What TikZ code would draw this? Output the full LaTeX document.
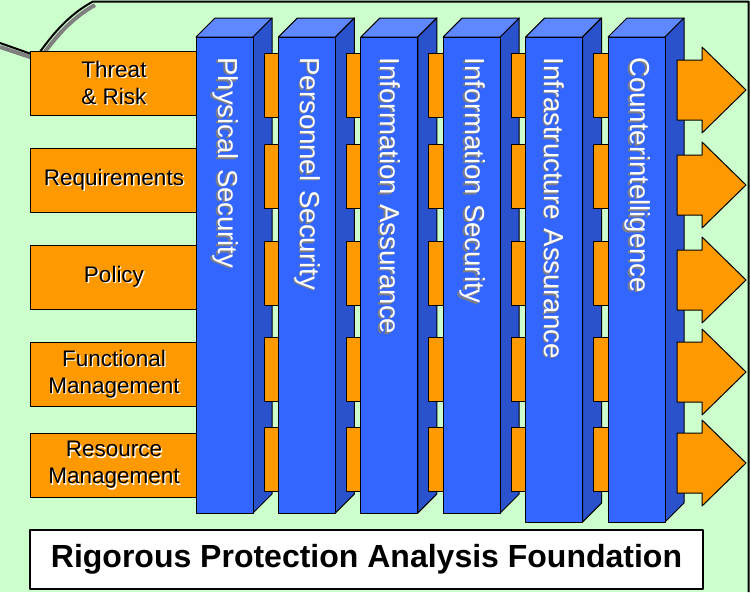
\documentclass[tikz,border=0pt]{standalone}
\usepackage{fontspec}
\setmainfont{Liberation Sans}
\usetikzlibrary{positioning}
\definecolor{cgreen}{HTML}{CCFFCC}
\definecolor{corange}{HTML}{FF9900}
\definecolor{cblue}{HTML}{3366FF}
\definecolor{cbluetop}{HTML}{5F87FF}
\definecolor{cblueside}{HTML}{2A52CC}
\definecolor{cshadow}{HTML}{7F7F7F}
\newcommand{\shadowtext}[2]{\leavevmode\rlap{\raisebox{-1.3pt}{\kern1.3pt\textcolor{#1}{#2}}}#2}
\tikzset{
  every picture/.style={x=1pt, y=-1pt, line width=1pt, line join=round},
  box/.style={draw=black, fill=corange, align=center, inner sep=0pt, minimum width=167pt, minimum height=64pt,
    font=\fontsize{22.5}{27}\selectfont},
  face/.style={draw=black, fill=#1},
  pillar/.style={face=cblue, rotate=-90, minimum height=57pt, inner xsep=20pt, inner ysep=0pt, align=left,
    text=white, font=\fontsize{27.5}{30}\selectfont},
  bar/.style={draw=black, fill=corange},
  title/.style={draw=black, line width=2.2pt, fill=white, inner sep=0pt, minimum width=673pt, minimum height=59pt,
    font=\fontsize{32}{36}\selectfont\bfseries},
}

\begin{document}
\begin{tikzpicture}
  % background
  \fill[cgreen] (0,0) rectangle (750,592);
  \useasboundingbox (0,0) rectangle (750,592);
  \draw[cshadow, line width=4pt] (0,47) -- (39,60) .. controls (54,39) and (70,19) .. (95,5);
  \draw[line width=2pt] (0,43) -- (37,56) .. controls (52,35) and (68,15) .. (93,1.5) -- (748.5,1.5) -- (748.5,592);
  % left boxes
  \node[box, anchor=north west] (threat) at (30,51) {\shadowtext{white}{Threat}\\\shadowtext{white}{\& Risk}};
  \node[box, below=32pt of threat] (req) {\shadowtext{white}{Requirements}};
  \node[box, below=32pt of req] (policy) {\shadowtext{white}{Policy}};
  \node[box, below=32pt of policy] (func) {\shadowtext{white}{Functional}\\\shadowtext{white}{Management}};
  \node[box, below=26pt of func] (res) {\shadowtext{white}{Resource}\\\shadowtext{white}{Management}};
  % pillars
  \foreach \i/\name/\len in {0/Physical Security/476, 1/Personnel Security/476, 2/Information Assurance/476,
    3/Information Security/476, 4/Infrastructure Assurance/485, 5/Counterintelligence/485} {
    \pgfmathsetmacro\x{196+82.4*\i}
    \pgfmathsetmacro\b{37+\len}
    \pgfmathsetmacro\tw{\len-40}
    \draw[face=cbluetop] (\x,37) -- ({\x+19},18) -- ({\x+76},18) -- ({\x+57},37) -- cycle;
    \draw[face=cblueside] ({\x+57},37) -- ({\x+76},18) -- ({\x+76},{\b-19}) -- ({\x+57},\b) -- cycle;
    \node[pillar, minimum width=\len pt, text width=\tw pt, anchor=west] (p\i) at ({\x+28.5},37)
      {\shadowtext{cshadow}{\name}};
    \ifnum\i<5
      \foreach \y in {53,144,241,337,427} \draw[bar] ({\x+68},\y) rectangle ({\x+83.4},{\y+64});
    \fi
  }
  % arrows out
  \foreach \y in {90,185,280,372,463}
    \draw[bar] (677,{\y-30}) -- (702,{\y-30}) -- (702,{\y-43}) -- (746,\y) -- (702,{\y+43}) -- (702,{\y+30})
      -- (677,{\y+30}) -- cycle;
  % foundation
  \node[title] (found) at (366.5,559.5) {Rigorous Protection Analysis Foundation};
\end{tikzpicture}
\end{document}
